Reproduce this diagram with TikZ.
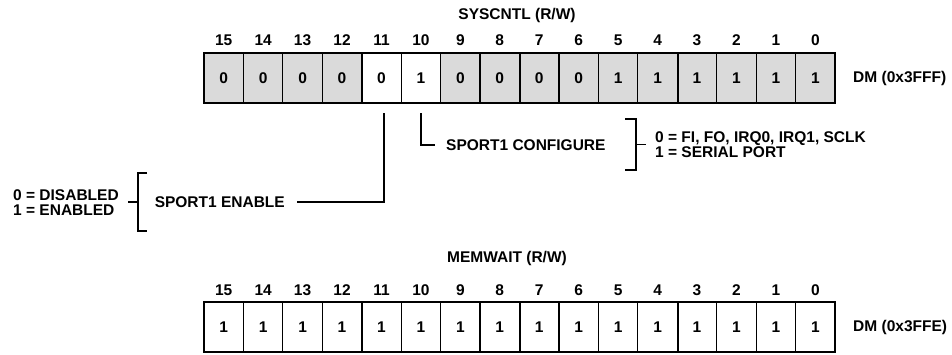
\documentclass[tikz,border=0pt]{standalone}
\usepackage{fontspec}
\setmainfont{Liberation Sans}
\definecolor{cellgray}{RGB}{218,218,218}
\begin{document}
\begin{tikzpicture}[x=1pt,y=-1pt,
  every node/.style={font=\fontsize{15.5}{15}\selectfont\bfseries, inner sep=0pt},
  cell/.style={draw, line width=1.2pt, minimum width=39.44pt, minimum height=49.5pt},
  gcell/.style={cell, fill=cellgray},
  wcell/.style={cell, fill=white},
  grp/.style={line width=2.2pt},
  frame/.style={line width=1.6pt},
  conn/.style={line width=1.3pt},
  brk/.style={line width=1.3pt},
  lbl/.style={align=left}]
\useasboundingbox (0,0) rectangle (952,354);
% ---- SYSCNTL register ----
\node (syst) at (517,15) {SYSCNTL (R/W)};
\foreach \i/\v in {15/0,14/0,13/0,12/0,11/0,10/1,9/0,8/0,7/0,6/0,5/1,4/1,3/1,2/1,1/1,0/1}{
  \pgfmathsetmacro{\cx}{204+(15-\i+0.5)*39.44}
  \ifnum\i=11 \def\st{wcell}\else\ifnum\i=10 \def\st{wcell}\else\def\st{gcell}\fi\fi
  \node[\st] (s\i) at (\cx,78) {\v};
  \node (sn\i) at (\cx,40) {\i};
}
\draw[frame] (s15.north west) rectangle (s0.south east);
\draw[grp] (s12.north east) -- (s12.south east);
\draw[grp] (s8.north east) -- (s8.south east);
\draw[grp] (s4.north east) -- (s4.south east);
\node[anchor=west] (dm1) at (853,78) {DM (0x3FFF)};
% ---- SPORT1 configure ----
\node[anchor=west] (config) at (446,145) {SPORT1 CONFIGURE};
\draw[conn] ([yshift=-10pt]s10.south) |- ([xshift=-11pt]config.west);
\coordinate (cbt) at (625,119);
\coordinate (cbb) at (625,170);
\draw[brk] (cbt) -- (636,119) -- (636,170) -- (cbb);
\draw[brk] (636,144.5) -- (646,144.5);
\node[anchor=west,lbl] (copt) at (655,145) {0 = FI, FO, IRQ0, IRQ1, SCLK\\1 = SERIAL PORT};
% ---- SPORT1 enable ----
\node[anchor=east] (enable) at (285,202) {SPORT1 ENABLE};
\draw[conn] ([xshift=2.5pt,yshift=-10pt]s11.south) |- ([xshift=12pt]enable.east);
\draw[brk] (147,173) -- (138,173) -- (138,231) -- (147,231);
\draw[brk] (138,202) -- (128,202);
\node[anchor=west,lbl] (eopt) at (13,203) {0 = DISABLED\\1 = ENABLED};
% ---- MEMWAIT register ----
\node (memt) at (507,258) {MEMWAIT (R/W)};
\foreach \i in {15,...,0}{
  \pgfmathsetmacro{\cx}{204+(15-\i+0.5)*39.44}
  \node[wcell] (m\i) at (\cx,327) {1};
  \node (mn\i) at (\cx,290) {\i};
}
\draw[frame] (m15.north west) rectangle (m0.south east);
\draw[grp] (m12.north east) -- (m12.south east);
\draw[grp] (m8.north east) -- (m8.south east);
\draw[grp] (m4.north east) -- (m4.south east);
\node[anchor=west] (dm2) at (853,327) {DM (0x3FFE)};
\end{tikzpicture}
\end{document}
